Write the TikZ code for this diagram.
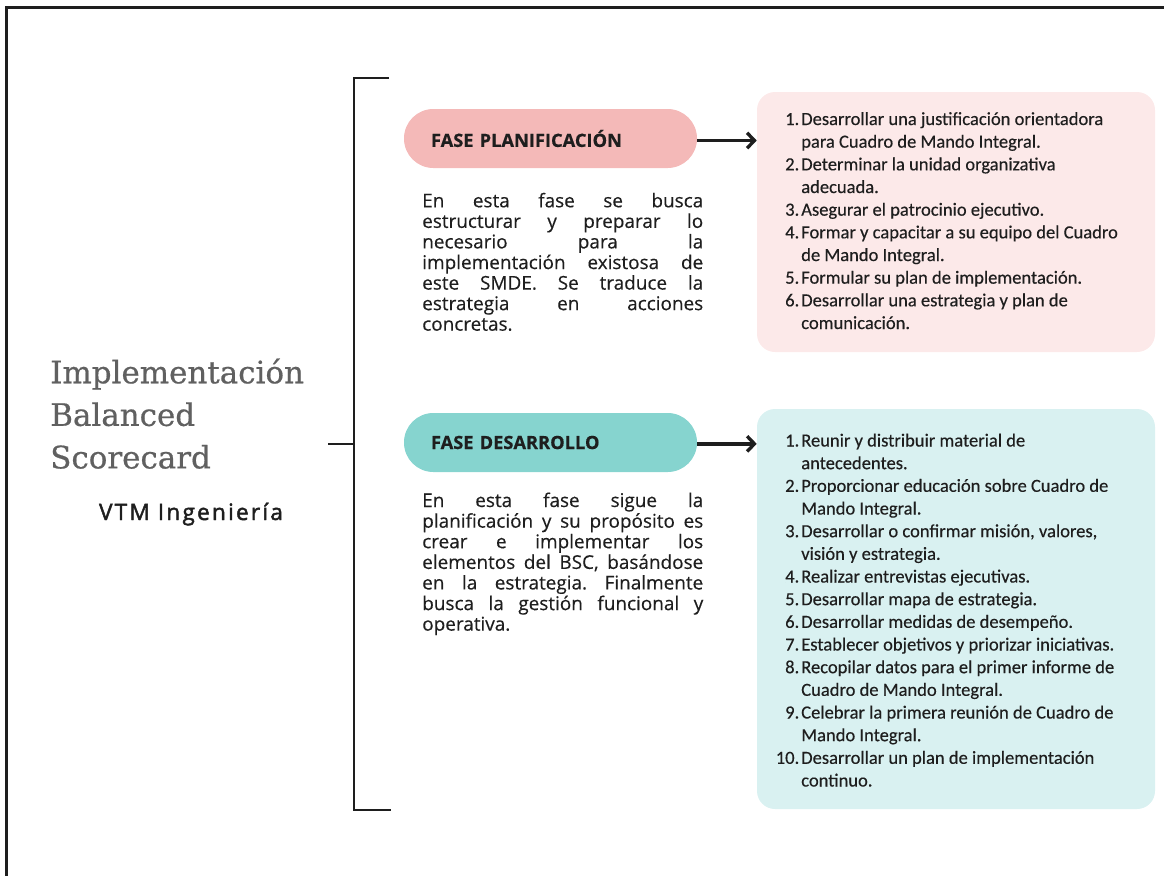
\documentclass[tikz,border=0pt]{standalone}
\usepackage{fontspec}
\usepackage{graphicx}
\setmainfont{Open Sans}
\newfontfamily\listfont[FakeBold=0.35]{Carlito}
\newfontfamily\descfont[FakeBold=0.35]{Open Sans}
\newfontfamily\titlefont[FakeBold=0.6]{DejaVu Serif}
\newfontfamily\vtmfont[LetterSpace=10,FakeBold=2]{Open Sans}
\usetikzlibrary{arrows.meta}

\definecolor{pinkpill}{HTML}{F4B9B8}
\definecolor{pinkbox}{HTML}{FCE9E9}
\definecolor{tealpill}{HTML}{86D4CF}
\definecolor{tealbox}{HTML}{D9F1F1}
\definecolor{ink}{HTML}{1E1E1E}
\definecolor{titlegray}{HTML}{606060}

% justified description line of fixed width; squeezed if too long
\newlength{\descw}
\newlength{\natw}
\setlength{\descw}{210.75pt}
\newcommand{\jline}[1]{\settowidth{\natw}{#1}%
  \ifdim\natw>\descw\resizebox{\descw}{\height}{#1}\else\makebox[\descw][s]{#1}\fi}
% numbered list entry
\newcommand{\num}[1]{\llap{#1.\hspace{1.5pt}}}

\begin{document}
\frenchspacing
\begin{tikzpicture}[x=0.75pt,y=-0.75pt,
  frame/.style={line width=2.25pt, draw=ink},
  bracket/.style={line width=1.9pt, draw=ink},
  pill/.style={rectangle, rounded corners=22pt, minimum width=219.75pt,
    minimum height=44.25pt, text width=179.25pt, inner xsep=20.25pt,
    inner ysep=0pt, align=left, text=ink,
    font=\bfseries\addfontfeature{FakeBold=0.5}\fontsize{13.7}{16}\selectfont},
  listbox/.style={rectangle, rounded corners=13.5pt, minimum width=298.5pt, inner sep=0pt},
  listtext/.style={anchor=base west, inner sep=0pt, text=ink,
    font=\listfont\fontsize{13.9}{17}\selectfont},
  desc/.style={anchor=base west, inner sep=0pt, text=ink,
    font=\descfont\fontsize{14.2}{15.4}\selectfont},
  link/.style={line width=2.5pt, draw=ink, -{Straight Barb[length=5.5pt,width=11.5pt]}}
]
\useasboundingbox (0,0) rectangle (1164,875);

% page frame
\draw[frame] (1170,7) -| (6,882);

% title block
\node[anchor=base west, inner sep=0pt, text=titlegray,
  font=\titlefont\fontsize{23.2}{31.9}\selectfont] (title) at (50,383.3)
  {\begin{tabular}[t]{@{}l@{}}Implementación\\Balanced\\Scorecard\end{tabular}};
\node[anchor=base, inner sep=0pt, text=ink,
  font=\vtmfont\fontsize{16.9}{18}\selectfont] (company) at (191,520) {VTM Ingeniería};

% brace joining the two phases
\coordinate (btop) at (389,78);
\coordinate (bbot) at (391,810);
\coordinate (bmid) at (354,444);
\coordinate (tick) at (328,444);
\draw[bracket] (btop) -| (bmid) |- (bbot);
\draw[bracket] (tick) -- (bmid);

% phase pills
\node[pill, fill=pinkpill] (p1) at (550.5,138.5) {FASE PLANIFICACIÓN};
\node[pill, fill=tealpill] (p2) at (550.5,442.5) {FASE DESARROLLO};

% step boxes
\node[listbox, fill=pinkbox, minimum height=195pt] (b1) at (956,222) {};
\node[listbox, fill=tealbox, minimum height=300pt] (b2) at (956,609) {};

\draw[link] ([yshift=-1.5pt]p1.east) -- ([yshift=-1.5pt]p1.east -| b1.west);
\draw[link] ([yshift=-1pt]p2.east) -- ([yshift=-1pt]p2.east -| b2.west);

% phase descriptions
\node[desc] (d1) at (422,207.3) {\begin{tabular}[t]{@{}l@{}}
\jline{En esta fase se busca}\\
\jline{estructurar y preparar lo}\\
\jline{necesario para la}\\
\jline{implementación existosa de}\\
\jline{este SMDE. Se traduce la}\\
\jline{estrategia en acciones}\\
concretas.\end{tabular}};

\node[desc] (d2) at (422,507) {\begin{tabular}[t]{@{}l@{}}
\jline{En esta fase sigue la}\\
\jline{planificación y su propósito es}\\
\jline{crear e implementar los}\\
\jline{elementos del BSC, basándose}\\
\jline{en la estrategia. Finalmente}\\
\jline{busca la gestión funcional y}\\
operativa.\end{tabular}};

% step lists
\node[listtext] (t1) at (801,125) {\begin{tabular}[t]{@{}l@{}}
\num{1}Desarrollar una justificación orientadora\\
para Cuadro de Mando Integral.\\
\num{2}Determinar la unidad organizativa\\
adecuada.\\
\num{3}Asegurar el patrocinio ejecutivo.\\
\num{4}Formar y capacitar a su equipo del Cuadro\\
de Mando Integral.\\
\num{5}Formular su plan de implementación.\\
\num{6}Desarrollar una estrategia y plan de\\
comunicación.\end{tabular}};

\node[listtext] (t2) at (801,446.5) {\begin{tabular}[t]{@{}l@{}}
\num{1}Reunir y distribuir material de\\
antecedentes.\\
\num{2}Proporcionar educación sobre Cuadro de\\
Mando Integral.\\
\num{3}Desarrollar o confirmar misión, valores,\\
visión y estrategia.\\
\num{4}Realizar entrevistas ejecutivas.\\
\num{5}Desarrollar mapa de estrategia.\\
\num{6}Desarrollar medidas de desempeño.\\
\num{7}Establecer objetivos y priorizar iniciativas.\\
\num{8}Recopilar datos para el primer informe de\\
Cuadro de Mando Integral.\\
\num{9}Celebrar la primera reunión de Cuadro de\\
Mando Integral.\\
\num{10}Desarrollar un plan de implementación\\
continuo.\end{tabular}};
\end{tikzpicture}
\end{document}
